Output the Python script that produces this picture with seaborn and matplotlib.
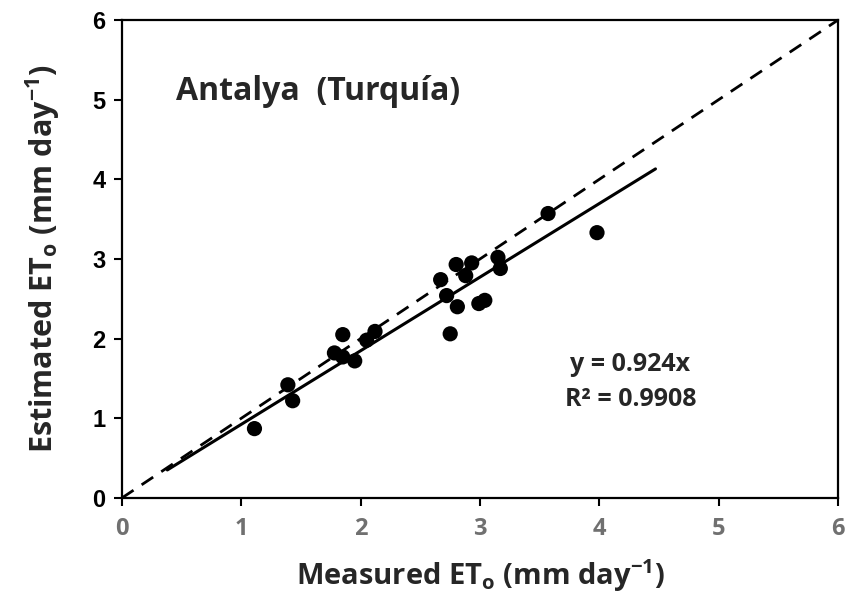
import numpy as np
import pandas as pd
import seaborn as sns
import matplotlib.pyplot as plt

# measured vs estimated ETo, Antalya
measured = [1.11, 1.39, 1.43, 1.78, 1.85, 1.85, 1.95, 2.05, 2.12,
            2.67, 2.72, 2.75, 2.80, 2.81, 2.88, 2.93, 2.99, 3.04,
            3.15, 3.17, 3.57, 3.98]
estimated = [0.87, 1.42, 1.22, 1.82, 2.05, 1.77, 1.72, 1.98, 2.09,
             2.74, 2.54, 2.06, 2.93, 2.40, 2.79, 2.95, 2.44, 2.48,
             3.02, 2.88, 3.57, 3.33]
slope = 0.924
r2 = 0.9908
fit_range = [0.38, 4.47]
axis_ticks = [0, 1, 2, 3, 4, 5, 6]

df = pd.DataFrame({"measured": measured, "estimated": estimated})
fit = pd.DataFrame({"x": fit_range, "y": [slope * v for v in fit_range]})
one2one = pd.DataFrame({"x": [0, 6], "y": [0, 6]})

sns.set_style("white")
plt.rcParams["font.family"] = ["Liberation Sans", "DejaVu Sans"]
label_font = "Open Sans"

fig = plt.figure(figsize=(8.5, 6.05), dpi=100)
ax = fig.add_axes([0.1435, 0.177, 0.8425, 0.790])

sns.lineplot(data=one2one, x="x", y="y", ax=ax, color="black", lw=2,
             dashes=False, linestyle=(0, (5, 3.5)))
sns.lineplot(data=fit, x="x", y="y", ax=ax, color="black", lw=2.2)
sns.scatterplot(data=df, x="measured", y="estimated", ax=ax, color="black",
                s=120, edgecolor="none", zorder=3)

ax.set_xlim(0, 6)
ax.set_ylim(0, 6)
ax.set_xticks(axis_ticks)
ax.set_yticks(axis_ticks)
ax.set_xticklabels([str(t) for t in axis_ticks], family=label_font,
                   fontweight="bold", fontsize=17, color="#707070")
ax.set_yticklabels([str(t) for t in axis_ticks], fontweight="bold",
                   fontsize=17, color="black")
ax.tick_params(axis="both", direction="out", length=6, width=1.5,
               color="black", bottom=True, left=True)
ax.tick_params(axis="x", pad=8)
ax.tick_params(axis="y", pad=6)
for sp in ax.spines.values():
    sp.set_color("black")
    sp.set_linewidth(1.6)

ax.set_xlabel(r"Measured ET$_\mathregular{o}$ (mm day$^\mathregular{-1}$)",
              family=label_font, fontweight="bold", fontsize=21, labelpad=11)
ax.set_ylabel(r"Estimated ET$_\mathregular{o}$ (mm day$^\mathregular{-1}$)",
              family=label_font, fontweight="bold", fontsize=22, labelpad=22)

ax.text(0.45, 5.1, "Antalya  (Turquía)", family=label_font,
        fontweight="bold", fontsize=23, ha="left", va="center")
ax.text(4.26, 1.67, f"y = {slope}x", family=label_font, fontweight="bold",
        fontsize=18, ha="center", va="center")
ax.text(4.26, 1.23, f"R² = {r2}", family=label_font, fontweight="bold",
        fontsize=18, ha="center", va="center")

fig.savefig("out.png", dpi=100)
